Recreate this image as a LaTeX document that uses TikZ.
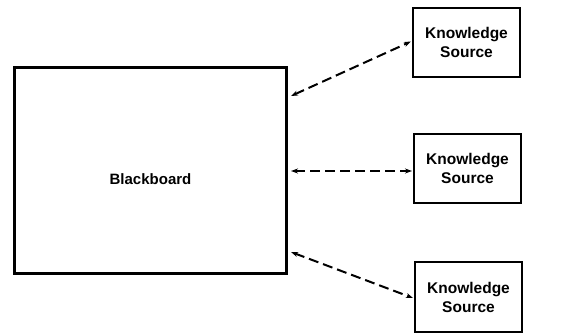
\documentclass[tikz,border=0pt]{standalone}
\usepackage{fontspec}
\setmainfont{Liberation Sans}
\usetikzlibrary{arrows.meta}
\begin{document}
\begin{tikzpicture}[x=1pt,y=-1pt,>={Stealth[length=7pt,width=5pt]},
  board/.style={draw,line width=3pt,minimum width=272pt,minimum height=206pt,
    inner sep=0pt},
  ksbox/.style={draw,line width=2pt,minimum width=107pt,minimum height=69pt,
    inner sep=0pt,align=center,font=\bfseries\fontsize{15.5}{19}\selectfont},
  link/.style={<->,line width=2pt,dash pattern=on 10pt off 5pt}]
 \useasboundingbox (0,0) rectangle (564,336);
 \node[board,label={[yshift=-9pt,font=\bfseries\fontsize{15}{18}\selectfont]center:Blackboard}]
   (bb) at (150.5,170.5) {};
 \node[ksbox] (ks1) at (466.5,42.5) {Knowledge\\Source};
 \node[ksbox] (ks2) at (467.5,168.5) {Knowledge\\Source};
 \node[ksbox] (ks3) at (468.5,297) {Knowledge\\Source};
 \draw[link] ([xshift=3pt,yshift=-30pt]bb.north east) -- ([xshift=-1pt,yshift=1pt]ks1.west);
 \draw[link] ([xshift=3pt,yshift=-0.5pt]bb.east) -- ([xshift=-1pt,yshift=-2.5pt]ks2.west);
 \draw[link] ([xshift=3pt,yshift=23pt]bb.south east) -- ([xshift=-1pt,yshift=-1pt]ks3.west);
\end{tikzpicture}
\end{document}
